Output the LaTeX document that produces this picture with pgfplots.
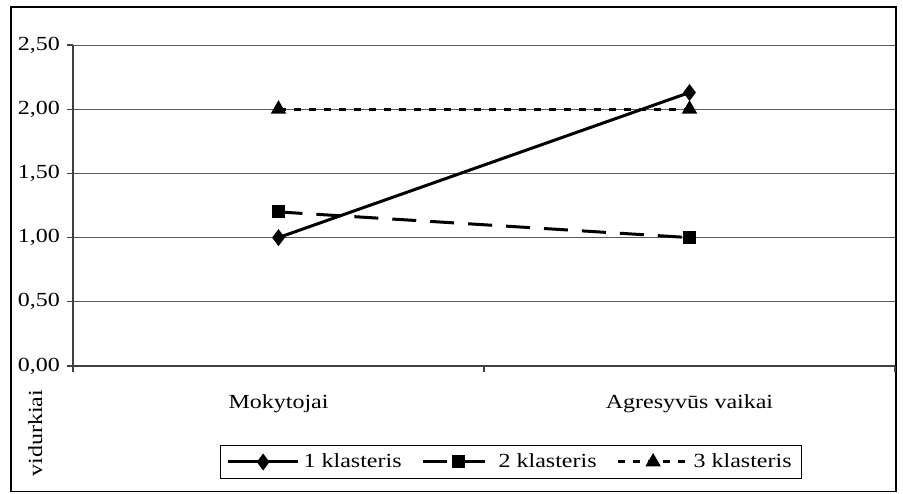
\documentclass[border=0pt]{standalone}
\usepackage{fontspec}
\setmainfont{Liberation Serif}[FakeStretch=1.2]
\usepackage{pgfplots}
\pgfplotsset{compat=1.18}
\begin{document}
\fontsize{10}{12}\selectfont
\begin{tikzpicture}
\useasboundingbox (-36.5pt,-63.5pt) rectangle (415pt,183pt);
\draw[line width=0.8pt] (-31pt,-62.8pt) rectangle (411.5pt,179.5pt);
\begin{axis}[
  at={(0pt,0pt)}, anchor=south west,
  scale only axis, width=411pt, height=160.5pt,
  xmin=0, xmax=2, ymin=0, ymax=2.5,
  axis x line*=bottom, axis y line*=left,
  axis line style={-, line width=0.8pt, color=black!75},
  ytick={0,0.5,1,1.5,2,2.5},
  yticklabel style={/pgf/number format/.cd, fixed, fixed zerofill, precision=2, use comma, assume math mode=true},
  ymajorgrids, grid style={line width=0.5pt, color=black!65},
  tick align=outside, major tick length=3pt, minor tick length=3pt,
  tick style={line width=0.6pt, color=black!75},
  xtick={0.5,1.5}, xticklabels={Mokytojai, Agresyvūs vaikai},
  major x tick style={draw=none},
  minor xtick={0,1,2},
  xticklabel style={yshift=-8pt},
  ylabel={vidurkiai},
  ylabel style={at={(axis description cs:-0.046,-0.209)}, anchor=center},
  legend columns=3,
  legend style={at={(0.533,-0.299)}, anchor=center, draw=black, line width=0.5pt,
    /tikz/every even column/.append style={column sep=8pt}, inner xsep=3pt, inner ysep=2pt},
  legend image code/.code={\draw[mark repeat=2,mark phase=2,#1] plot coordinates {(0pt,0pt) (17.5pt,0pt) (35pt,0pt)};},
]
\addplot[black, line width=1.5pt, mark=diamond*, mark size=3pt, mark options={solid}]
  coordinates {(0.5,1.00) (1.5,2.13)};
\addlegendentry{1 klasteris}
\addplot[black, line width=1.5pt, dash pattern=on 12pt off 7pt, mark=square*, mark size=2.5pt, mark options={solid}]
  coordinates {(0.5,1.20) (1.5,1.00)};
\addlegendentry{2 klasteris}
\addplot[black, line width=1.5pt, dash pattern=on 3.5pt off 4pt, mark=triangle*, mark size=3pt, mark options={solid}]
  coordinates {(0.5,2.00) (1.5,2.00)};
\addlegendentry{3 klasteris}
\end{axis}
\end{tikzpicture}
\end{document}
